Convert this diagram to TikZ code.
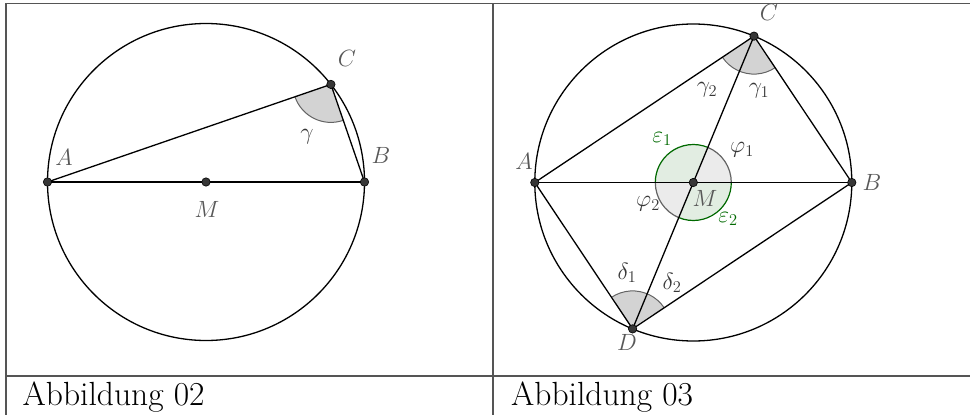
\RequirePackage{fix-cm}
\documentclass[tikz,border=0pt]{standalone}
\usetikzlibrary{angles}
\definecolor{lbl}{RGB}{88,88,88}
\definecolor{albl}{RGB}{55,55,55}
\definecolor{framec}{RGB}{85,85,85}
\definecolor{ggreen}{RGB}{0,105,0}
\definecolor{gfill}{RGB}{226,237,226}
\definecolor{sfill}{RGB}{235,235,235}
\definecolor{wfill}{RGB}{211,211,211}
\definecolor{wedgec}{RGB}{100,100,100}
\definecolor{ptfill}{RGB}{55,55,55}
\begin{document}
\begin{tikzpicture}[x=1pt,y=1pt,
  geo/.style={line width=1.3pt, black},
  framel/.style={line width=1.3pt, framec},
  pt/.style={circle, fill=ptfill, draw=black, line width=0.6pt, minimum size=8.4pt, inner sep=0pt},
  lab/.style={text=lbl, font=\fontsize{23.5}{28}\selectfont, inner sep=0pt},
  alab/.style={text=albl, font=\fontsize{23.5}{28}\selectfont, inner sep=0pt},
  elab/.style={text=ggreen, font=\fontsize{23.5}{28}\selectfont, inner sep=0pt},
  captext/.style={font=\fontsize{33.5}{38}\selectfont, anchor=base west, inner sep=0pt},
  wedgest/.style={draw=wedgec, fill=wfill, line width=1pt, angle radius=38pt},
  arcg/.style={draw=ggreen, line width=1.2pt},
  arcs/.style={draw=wedgec, line width=1.2pt}
]
\useasboundingbox (0,0) rectangle (970,-415);

% ---------- frame ----------
\draw[framel] (6,-415) -- (6,-3.5) -- (970,-3.5);
\draw[framel] (493,-3.5) -- (493,-415);
\draw[framel] (6,-376) -- (970,-376);
\node[captext] (cap1) at (22.5,-405) {Abbildung 02};
\node[captext] (cap2) at (511,-405) {Abbildung 03};

% ---------- left figure ----------
\coordinate (M1) at (206,-182);
\coordinate (A1) at (47.5,-182);
\coordinate (B1) at (364.5,-182);
\coordinate (C1) at (330.9,-84.4);

\pic[wedgest] {angle=A1--C1--B1};
\draw[geo] (M1) circle[radius=158.5];
\draw[geo] (A1) -- (B1);
\draw[geo] (A1) -- (C1) -- (B1);

\node[pt] (pA1) at (A1) {};
\node[pt] (pB1) at (B1) {};
\node[pt] (pC1) at (C1) {};
\node[pt] (pM1) at (M1) {};

\node[lab] (lA1) at (64,-157) {$A$};
\node[lab] (lB1) at (381,-155) {$B$};
\node[lab] (lC1) at (347,-58) {$C$};
\node[lab] (lM1) at (207,-209) {$M$};
\node[alab] (lg1) at (307,-137) {$\gamma$};

% ---------- right figure ----------
\coordinate (M2) at (693.3,-182.5);
\coordinate (A2) at (534.8,-182.5);
\coordinate (B2) at (851.8,-182.5);
\coordinate (C2) at (754.0,-36.1);
\coordinate (D2) at (632.6,-328.9);

% sectors at M
\fill[gfill] (M2) -- ++(67.5:38) arc[start angle=67.5, end angle=180, radius=38] -- cycle;
\fill[gfill] (M2) -- ++(247.5:38) arc[start angle=247.5, end angle=360, radius=38] -- cycle;
\fill[sfill] (M2) -- ++(0:38) arc[start angle=0, end angle=67.5, radius=38] -- cycle;
\fill[sfill] (M2) -- ++(180:38) arc[start angle=180, end angle=247.5, radius=38] -- cycle;
\draw[arcg] (M2) ++(67.5:38) arc[start angle=67.5, end angle=180, radius=38];
\draw[arcg] (M2) ++(247.5:38) arc[start angle=247.5, end angle=360, radius=38];
\draw[arcs] (M2) ++(0:38) arc[start angle=0, end angle=67.5, radius=38];
\draw[arcs] (M2) ++(180:38) arc[start angle=180, end angle=247.5, radius=38];

% angles at C and D
\pic[wedgest] {angle=A2--C2--B2};
\pic[wedgest] {angle=B2--D2--A2};

\draw[geo] (M2) circle[radius=158.5];
\draw[geo] (A2) -- (B2);
\draw[geo] (C2) -- (D2);
\draw[geo] (A2) -- (C2) -- (B2) -- (D2) -- (A2);

\node[pt] (pA2) at (A2) {};
\node[pt] (pB2) at (B2) {};
\node[pt] (pC2) at (C2) {};
\node[pt] (pD2) at (D2) {};
\node[pt] (pM2) at (M2) {};

\node[lab] (lA2) at (524,-161) {$A$};
\node[lab] (lB2) at (872,-182) {$B$};
\node[lab] (lC2) at (769,-12) {$C$};
\node[lab] (lD2) at (627,-342) {$D$};
\node[lab] (lM2) at (705,-198) {$M$};
\node[alab] (lg2) at (707,-90) {$\gamma_2$};
\node[alab] (lg1b) at (759,-91) {$\gamma_1$};
\node[alab] (ld1) at (627,-273) {$\delta_1$};
\node[alab] (ld2) at (672,-283) {$\delta_2$};
\node[alab] (lp1) at (742,-150) {$\varphi_1$};
\node[alab] (lp2) at (648,-204) {$\varphi_2$};
\node[elab] (le1) at (662,-139) {$\varepsilon_1$};
\node[elab] (le2) at (728,-219) {$\varepsilon_2$};
\end{tikzpicture}
\end{document}
